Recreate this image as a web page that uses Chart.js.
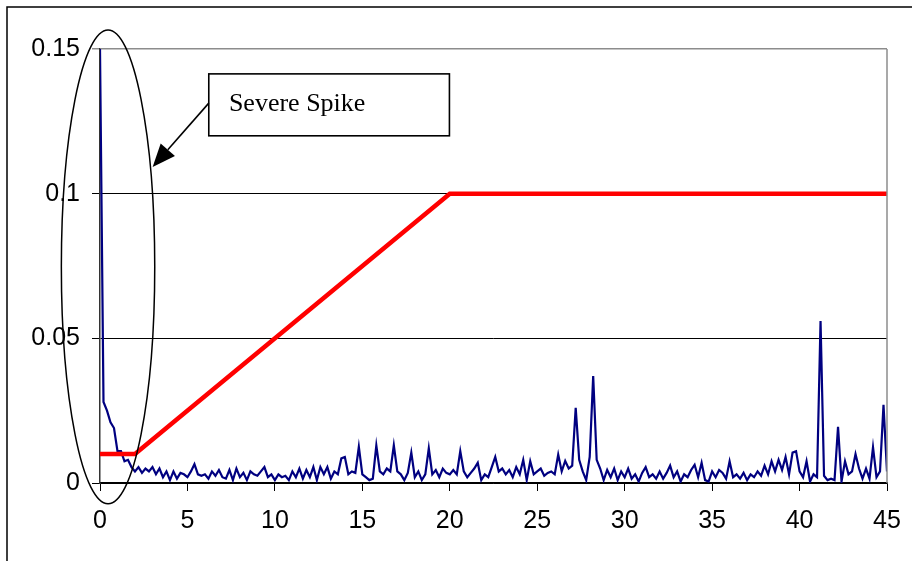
<!DOCTYPE html>
<html>
<head>
<meta charset="utf-8">
<script src="https://cdn.jsdelivr.net/npm/chart.js@4.4.1/dist/chart.umd.min.js"></script>
<style>
  html, body { margin: 0; padding: 0; background: #fff; }
  #wrap { width: 912px; height: 561px; }
</style>
</head>
<body>
<div id="wrap"><canvas id="spikeChart" width="912" height="561"></canvas></div>
<script>
// measured signal, one sample every 0.2 s (0 .. 45)
const sampleStep = 0.2;
const signal = [
  0.150, 0.028, 0.025, 0.021, 0.019,
  0.011, 0.011, 0.0075, 0.008, 0.0055,
  0.004, 0.0055, 0.0035, 0.005, 0.004,
  0.0055, 0.003, 0.005, 0.002, 0.004,
  0.001, 0.004, 0.0015, 0.0035, 0.003,
  0.002, 0.004, 0.0065, 0.003, 0.0025,
  0.003, 0.0015, 0.004, 0.0025, 0.0045,
  0.002, 0.0015, 0.0045, 0.001, 0.005,
  0.002, 0.0035, 0.001, 0.004, 0.003,
  0.0025, 0.004, 0.0055, 0.002, 0.003,
  0.001, 0.003, 0.002, 0.0025, 0.001,
  0.004, 0.002, 0.005, 0.0015, 0.0045,
  0.002, 0.0055, 0.001, 0.0055, 0.003,
  0.0055, 0.0015, 0.004, 0.003, 0.0085,
  0.009, 0.003, 0.004, 0.0035, 0.0125,
  0.003, 0.002, 0.001, 0.0015, 0.013,
  0.004, 0.003, 0.005, 0.004, 0.013,
  0.004, 0.003, 0.001, 0.0035, 0.0105,
  0.002, 0.004, 0.001, 0.003, 0.012,
  0.003, 0.0045, 0.002, 0.005, 0.0035,
  0.003, 0.0045, 0.003, 0.011, 0.004,
  0.002, 0.0035, 0.005, 0.007, 0.001,
  0.003, 0.002, 0.0055, 0.009, 0.004,
  0.005, 0.003, 0.0045, 0.002, 0.0055,
  0.003, 0.008, 0.001, 0.0075, 0.003,
  0.004, 0.005, 0.0025, 0.0035, 0.004,
  0.003, 0.0098, 0.004, 0.0076, 0.005,
  0.006, 0.026, 0.008, 0.004, 0.001,
  0.009, 0.037, 0.008, 0.005, 0.001,
  0.0045, 0.002, 0.005, 0.001, 0.004,
  0.002, 0.005, 0.0015, 0.003, 0.0005,
  0.0035, 0.0055, 0.002, 0.003, 0.0015,
  0.004, 0.0015, 0.0035, 0.006, 0.002,
  0.004, 0.0005, 0.003, 0.002, 0.0045,
  0.0063, 0.002, 0.007, 0.001, 0.0005,
  0.004, 0.002, 0.0045, 0.0035, 0.0015,
  0.0075, 0.002, 0.003, 0.0015, 0.0035,
  0.001, 0.003, 0.002, 0.004, 0.0025,
  0.006, 0.003, 0.0075, 0.004, 0.008,
  0.0045, 0.009, 0.003, 0.0105, 0.011,
  0.004, 0.002, 0.0075, 0.0005, 0.003,
  0.002, 0.056, 0.0025, 0.001, 0.0015,
  0.001, 0.0194, 0.0005, 0.0075, 0.003,
  0.004, 0.010, 0.005, 0.0015, 0.005,
  0.0015, 0.0124, 0.002, 0.004, 0.027,
  0.004
];

// threshold envelope (breakpoints)
const thresholdX = [0, 2, 20, 45];
const thresholdY = [0.01, 0.01, 0.1, 0.1];

const xTicks = [0, 5, 10, 15, 20, 25, 30, 35, 40, 45];
const yTicks = [0, 0.05, 0.1, 0.15];

// callout, in axis units
const callout = {
  text: 'Severe Spike',
  box: { x0: 6.22, x1: 19.98, y0: 0.1414, y1: 0.12 },
  textAt: { x: 7.37, y: 0.1286 },
  arrowFrom: { x: 6.22, y: 0.1313 },
  arrowTo: { x: 3.01, y: 0.1092 },
  ellipse: { cx: 0.46, cy: 0.0747, rx: 2.67, ry: 0.0819 }
};

const signalPoints = signal.map((v, i) => ({ x: +(i * sampleStep).toFixed(1), y: v }));
const thresholdPoints = thresholdX.map((x, i) => ({ x: x, y: thresholdY[i] }));

const framePlugin = {
  id: 'frame',
  beforeDraw(chart) {
    const ctx = chart.ctx;
    ctx.save();
    ctx.fillStyle = '#fff';
    ctx.fillRect(0, 0, chart.width, chart.height);
    ctx.strokeStyle = '#000';
    ctx.lineWidth = 1.5;
    ctx.beginPath();
    ctx.moveTo(7, chart.height);
    ctx.lineTo(7, 7);
    ctx.lineTo(chart.width, 7);
    ctx.stroke();
    ctx.restore();
  },
  afterDraw(chart) {
    // grey plot-area edge on the right
    const a = chart.chartArea;
    const ctx = chart.ctx;
    ctx.save();
    ctx.strokeStyle = '#8c8c8c';
    ctx.lineWidth = 1.5;
    ctx.beginPath();
    ctx.moveTo(a.right, a.top);
    ctx.lineTo(a.right, a.bottom);
    ctx.stroke();
    ctx.restore();
  }
};

const calloutPlugin = {
  id: 'callout',
  afterDraw(chart) {
    const sx = chart.scales.x, sy = chart.scales.y;
    const px = v => sx.getPixelForValue(v);
    const py = v => sy.getPixelForValue(v);
    const ctx = chart.ctx;
    ctx.save();

    // ellipse round the spike
    const e = callout.ellipse;
    const ecx = px(e.cx), ecy = py(e.cy);
    const erx = px(e.cx + e.rx) - ecx;
    const ery = ecy - py(e.cy + e.ry);
    ctx.strokeStyle = '#000';
    ctx.lineWidth = 1.5;
    ctx.beginPath();
    ctx.ellipse(ecx, ecy, erx, ery, 0, 0, Math.PI * 2);
    ctx.stroke();

    // text box
    const b = callout.box;
    const bx = px(b.x0), by = py(b.y0);
    const bw = px(b.x1) - bx, bh = py(b.y1) - by;
    ctx.fillStyle = '#fff';
    ctx.fillRect(bx, by, bw, bh);
    ctx.lineWidth = 1.6;
    ctx.strokeRect(bx, by, bw, bh);
    ctx.fillStyle = '#000';
    ctx.font = '26px "Liberation Serif", "Times New Roman", serif';
    ctx.textBaseline = 'alphabetic';
    ctx.fillText(callout.text, px(callout.textAt.x), py(callout.textAt.y));

    // arrow
    const x0 = px(callout.arrowFrom.x), y0 = py(callout.arrowFrom.y);
    const x1 = px(callout.arrowTo.x), y1 = py(callout.arrowTo.y);
    const ang = Math.atan2(y1 - y0, x1 - x0);
    const headLen = 23, headHalf = 9.5;
    const bxh = x1 - headLen * Math.cos(ang), byh = y1 - headLen * Math.sin(ang);
    ctx.lineWidth = 1.6;
    ctx.beginPath();
    ctx.moveTo(x0, y0);
    ctx.lineTo(bxh, byh);
    ctx.stroke();
    ctx.beginPath();
    ctx.moveTo(x1, y1);
    ctx.lineTo(bxh + headHalf * Math.sin(ang), byh - headHalf * Math.cos(ang));
    ctx.lineTo(bxh - headHalf * Math.sin(ang), byh + headHalf * Math.cos(ang));
    ctx.closePath();
    ctx.fill();

    ctx.restore();
  }
};

const tickFont = { family: '"Liberation Sans", Arial, sans-serif', size: 25 };

new Chart(document.getElementById('spikeChart'), {
  type: 'scatter',
  data: {
    datasets: [
      {
        label: 'Threshold',
        data: thresholdPoints,
        showLine: true,
        borderColor: '#ff0000',
        borderWidth: 4.5,
        pointRadius: 0,
        tension: 0
      },
      {
        label: 'Signal',
        data: signalPoints,
        showLine: true,
        borderColor: '#000080',
        borderWidth: 2.2,
        pointRadius: 0,
        tension: 0
      }
    ]
  },
  options: {
    responsive: false,
    animation: false,
    devicePixelRatio: 1,
    layout: { padding: { top: 49, right: 25, left: 0, bottom: 0 } },
    plugins: { legend: { display: false }, tooltip: { enabled: false } },
    scales: {
      x: {
        type: 'linear',
        min: 0,
        max: 45,
        afterBuildTicks: s => { s.ticks = xTicks.map(v => ({ value: v })); },
        afterFit: s => { s.height = 78; s.paddingRight = 0; },
        ticks: { color: '#000', font: tickFont, padding: 15, maxRotation: 0 },
        grid: { drawOnChartArea: false, drawTicks: true, tickLength: 8, color: '#000', lineWidth: 1 },
        border: { color: '#000', width: 1.5 }
      },
      y: {
        type: 'linear',
        min: 0,
        max: 0.15,
        afterBuildTicks: s => { s.ticks = yTicks.map(v => ({ value: v })); },
        afterFit: s => { s.width = 100; },
        ticks: {
          color: '#000',
          font: tickFont,
          padding: 12,
          callback: v => String(+v.toFixed(2))
        },
        grid: {
          color: c => (c.tick && c.tick.value === 0.15 ? '#8c8c8c' : '#000'),
          lineWidth: c => (c.tick && c.tick.value === 0.15 ? 1.5 : 1),
          tickLength: 8
        },
        border: { color: '#333', width: 1.5 }
      }
    }
  },
  plugins: [framePlugin, calloutPlugin]
});
</script>
</body>
</html>
